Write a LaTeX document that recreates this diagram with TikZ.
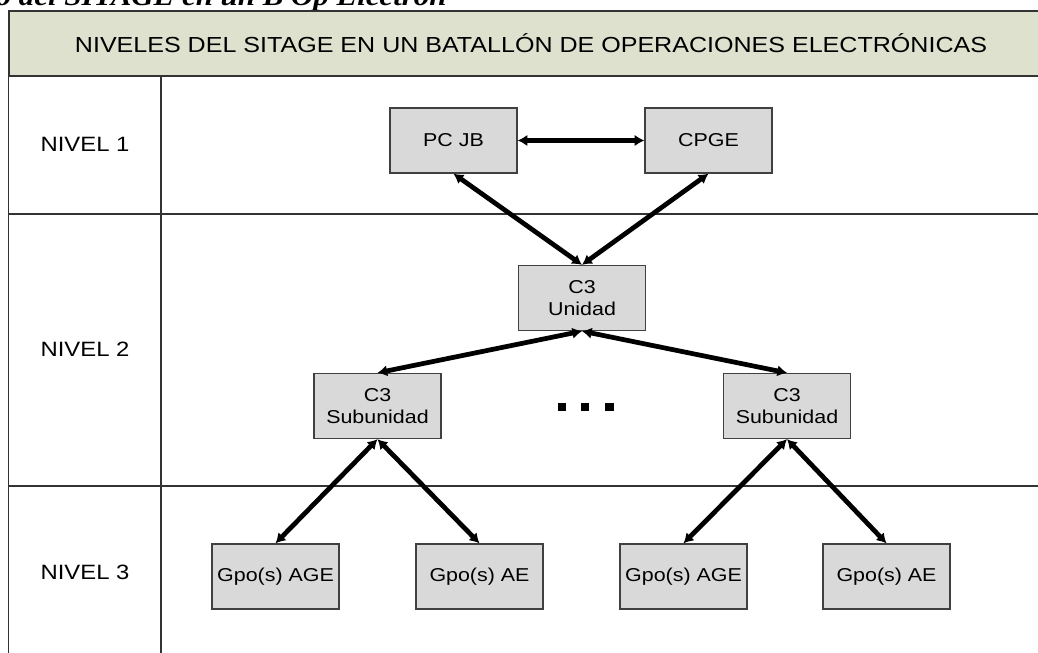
\documentclass[tikz,border=0pt]{standalone}
\usepackage{fontspec}
\setmainfont{Liberation Sans}[FakeStretch=1.15]
\newfontfamily\leyenda{Liberation Serif}[FakeStretch=1.15]
\usepackage{xcolor}
\usepackage{tikz}
\usetikzlibrary{shapes,arrows.meta}

\definecolor{cabeza}{RGB}{221,225,206}
\definecolor{griscaja}{RGB}{217,217,217}
\definecolor{bordecaja}{RGB}{64,64,64}

\begin{document}
\begin{tikzpicture}[
    caja/.style={rectangle,draw=bordecaja,fill=griscaja,line width=0.75pt,minimum width=2.54cm,minimum height=1.3cm,inner sep=0pt,align=center,font=\fontsize{10.6}{12.3}\selectfont},
    nivel/.style={font=\fontsize{11.8}{14}\selectfont},
    flecha/.style={{Latex[length=5.5pt,width=6.5pt]}-{Latex[length=5.5pt,width=6.5pt]},line width=2.7pt,black},
    linea/.style={draw=black!80,line width=0.85pt}]
    \clip (0,0) rectangle (20.76,-13.06);

    % titulo cortado arriba
    \node[anchor=base east,inner sep=0pt,font={\leyenda\bfseries\itshape\fontsize{15.3}{18}\selectfont}] (titulo) at (8.94,-0.12) {o del SITAGE en un B Op Electrón};

    % tabla
    \node[linea,fill=cabeza,minimum width=20.88cm,minimum height=1.3cm,inner sep=0pt,font=\fontsize{12.4}{15}\selectfont] (cabecera) at (10.62,-0.87) {NIVELES DEL SITAGE EN UN BATALLÓN DE OPERACIONES ELECTRÓNICAS};
    \draw[linea] (cabecera.south west) -- ++(0,-11.8);
    \draw[linea] (3.22,-1.52) -- (3.22,-13.3);
    \draw[linea] (0.18,-4.28) -- (21.06,-4.28);
    \draw[linea] (0.18,-9.72) -- (21.06,-9.72);

    \node[nivel] (n1) at (1.70,-2.88) {NIVEL 1};
    \node[nivel] (n2) at (1.70,-6.98) {NIVEL 2};
    \node[nivel] (n3) at (1.70,-11.44) {NIVEL 3};

    % cajas
    \node[caja] (pcjb) at (9.07,-2.81) {PC JB};
    \node[caja] (cpge) at (14.17,-2.81) {CPGE};
    \node[caja] (c3u) at (11.64,-5.96) {C3\\Unidad};
    \node[caja] (c3s1) at (7.55,-8.12) {C3\\Subunidad};
    \node[caja] (c3s2) at (15.74,-8.12) {C3\\Subunidad};
    \node[caja] (age1) at (5.51,-11.53) {Gpo(s) AGE};
    \node[caja] (ae1) at (9.59,-11.53) {Gpo(s) AE};
    \node[caja] (age2) at (13.67,-11.53) {Gpo(s) AGE};
    \node[caja] (ae2) at (17.73,-11.53) {Gpo(s) AE};

    \foreach \x in {11.24,11.70,12.19}
        \fill (\x-0.085,-8.225) rectangle ++(0.17,0.17);

    % flechas
    \draw[flecha] (pcjb) -- (cpge);
    \draw[flecha] (c3u.north) -- (pcjb.south);
    \draw[flecha] (c3u.north) -- (cpge.south);
    \draw[flecha] (c3u.south) -- (c3s1.north);
    \draw[flecha] (c3u.south) -- (c3s2.north);
    \draw[flecha] (c3s1.south) -- (age1.north);
    \draw[flecha] (c3s1.south) -- (ae1.north);
    \draw[flecha] (c3s2.south) -- (age2.north);
    \draw[flecha] (c3s2.south) -- (ae2.north);
\end{tikzpicture}
\end{document}
